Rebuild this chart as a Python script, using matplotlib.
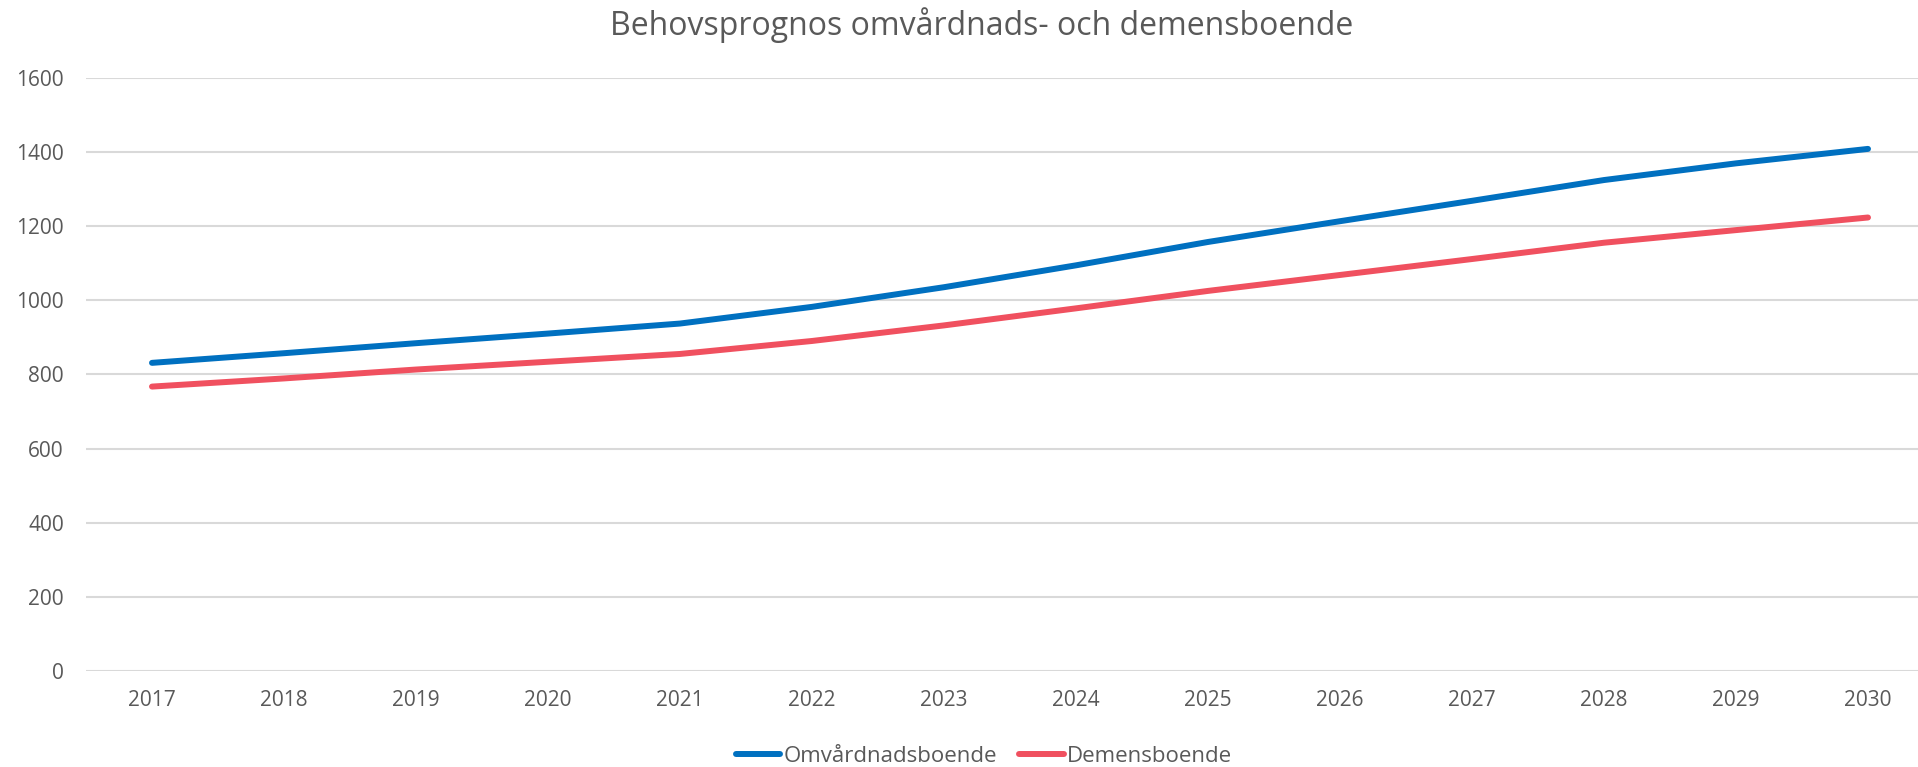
import matplotlib.pyplot as plt

years = [str(y) for y in range(2017, 2031)]
omvardnad = [831, 857, 884, 910, 937, 982, 1035, 1094, 1157, 1213, 1268, 1324, 1369, 1408]
demens = [767, 789, 813, 834, 855, 890, 932, 978, 1025, 1068, 1111, 1155, 1189, 1223]
yticks = [0, 200, 400, 600, 800, 1000, 1200, 1400, 1600]

plt.rcParams["font.family"] = ["Open Sans", "DejaVu Sans"]
text_color = "#595959"

fig = plt.figure(figsize=(19.18, 7.67), dpi=100)
ax = fig.add_axes([86 / 1918, 1 - 671 / 767, 1 - 86 / 1918, (671 - 77.7) / 767])

x = range(len(years))
ax.plot(x, omvardnad, color="#0070C0", lw=4.3, solid_capstyle="round", label="Omvårdnadsboende")
ax.plot(x, demens, color="#F0505F", lw=4.3, solid_capstyle="round", label="Demensboende")

# kategoriavstand ca 132 px, plotytan ar avskuren till hoger
ax.set_xlim(-0.5, (1918 - 86) / 132 - 0.5)
ax.set_ylim(0, 1600)
ax.set_yticks(yticks)
ax.set_xticks(list(x))
ax.set_xticklabels(years)
ax.grid(axis="y", color="#D9D9D9", lw=1.5)
ax.set_axisbelow(True)
for s in ax.spines.values():
    s.set_visible(False)
ax.tick_params(length=0, labelsize=15, colors=text_color)
ax.tick_params(axis="x", pad=14)
ax.tick_params(axis="y", pad=16)

fig.suptitle("Behovsprognos omvårdnads- och demensboende", x=0.512, y=1 - 25 / 767, va="center",
             fontsize=23, color=text_color)
fig.legend(loc="center", bbox_to_anchor=(0.513, 1 - 756 / 767), ncol=2, frameon=False,
           fontsize=16, labelcolor=text_color, handlelength=2.0, handletextpad=0.15,
           columnspacing=1.0)

fig.savefig("out.png", dpi=100)
